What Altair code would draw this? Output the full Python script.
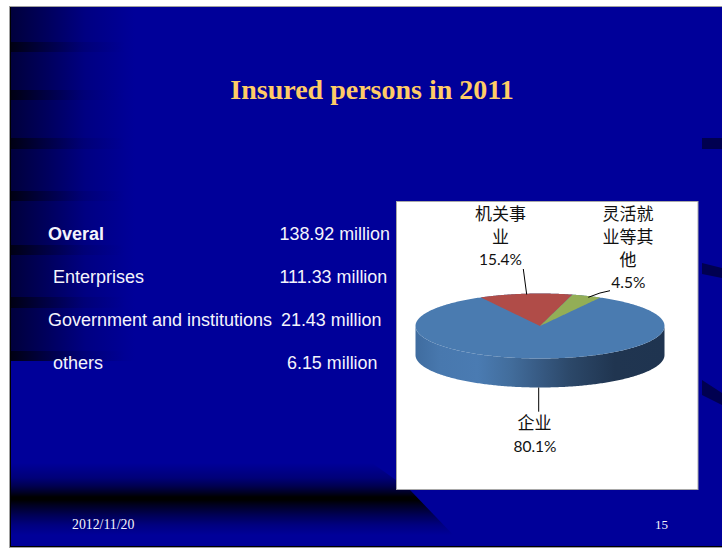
import altair as alt
import numpy as np
import pandas as pd

# Slide copy
title_text = "Insured persons in 2011"
row_names = ["Overal", "Enterprises", "Government and institutions", "others"]
row_amounts = ["138.92 million", "111.33 million", "21.43 million", "6.15 million"]
footer_date = "2012/11/20"
footer_page = "15"

# Pie shares in percent, clockwise from the red slice
share_names = ["机关事业", "灵活就业等其他", "企业"]
share_values = [15.4, 4.5, 80.1]

W, H = 722, 548
x_scale = alt.Scale(domain=[0, W], range=[0, W], nice=False, zero=False)
y_scale = alt.Scale(domain=[H, 0], range=[H, 0], nice=False, zero=False)
X = alt.X("x:Q", scale=x_scale, axis=None)
Y = alt.Y("y:Q", scale=y_scale, axis=None)


def grad(stops, horizontal=True):
    return alt.Gradient(
        gradient="linear",
        x1=0, y1=0, x2=1 if horizontal else 0, y2=0 if horizontal else 1,
        stops=[alt.GradientStop(offset=o, color=c) for o, c in stops],
    )


def rect(x, x2, y, y2, fill):
    df = pd.DataFrame({"x": [x], "x2": [x2], "y": [y], "y2": [y2]})
    return alt.Chart(df).mark_rect(fill=fill).encode(x=X, x2="x2:Q", y=Y, y2="y2:Q")


def band(xs, ys, ys2, fill):
    df = pd.DataFrame({"x": xs, "y": ys, "y2": ys2})
    return alt.Chart(df).mark_area(fill=fill, interpolate="linear", line=False).encode(
        x=X, y=Y, y2="y2:Q"
    )


def label(text, x, y, size, color="#000000", font="Liberation Sans", align="left",
          weight="normal", baseline="alphabetic"):
    df = pd.DataFrame({"x": [x], "y": [y], "t": [text]})
    return alt.Chart(df).mark_text(
        fontSize=size, color=color, font=font, align=align, fontWeight=weight, baseline=baseline
    ).encode(x=X, y=Y, text="t:N")


def leader(x, y, x2, y2):
    df = pd.DataFrame({"x": [x], "y": [y], "x2": [x2], "y2": [y2]})
    return alt.Chart(df).mark_rule(color="#000000", strokeWidth=1).encode(
        x=X, y=Y, x2="x2:Q", y2="y2:Q"
    )


layers = []

# Slide frame and blue ground
layers.append(rect(9, W, 6, 548, "#a0a0a0"))
layers.append(rect(10, W, 7, 547, "#000000"))
layers.append(rect(11, W, 7, 546, "#000099"))

# Dark fade down the left side, with its stripes
layers.append(rect(11, 135, 7, 361, grad([
    (0, "#00003c"), (0.3, "#00005e"), (0.6, "#000082"), (1, "#000099"),
])))
stripe_fade = grad([(0, "rgba(0,0,20,1)"), (0.25, "rgba(0,0,40,0.6)"), (0.6, "rgba(0,0,70,0.2)"), (1, "rgba(0,0,90,0)")])
for top, bottom in [(42, 52), (90, 100), (138, 149), (191, 201), (245, 255), (297, 308), (351, 361)]:
    layers.append(rect(11, 125, top, bottom, stripe_fade))

# Stripes on the right edge
stripe_color = "#000050"
layers.append(rect(702, W, 138, 149, stripe_color))
layers.append(band([702, W], [263, 268], [274, 278], stripe_color))
layers.append(band([702, W], [380, 393], [395, 405], stripe_color))

# Dark swoosh along the bottom; stops are set by row within the band
band_top, band_bottom = 463, 546
swoosh_stops = [
    (463, "#000099"), (478, "#000078"), (486, "#000050"), (492, "#000028"), (497, "#000000"),
    (500, "#000000"), (505, "#000020"), (515, "#000055"), (525, "#000080"), (535, "#000099"),
    (546, "#000099"),
]
layers.append(band(
    [11, 372, 410, 460], [band_top, band_top, 490, 542], [band_bottom] * 4,
    grad([((r - band_top) / (band_bottom - band_top), c) for r, c in swoosh_stops], horizontal=False),
))

# Slide text
body_white = "#F4F4FC"
layers.append(label(title_text, 372, 99, 28, "#FFCC66", "Liberation Serif", "center", "bold"))
baselines = [240, 283, 326, 369]
name_x = [48, 53, 48, 53]
amount_x = [279.5, 279.5, 281, 287]
for i, (name, amount) in enumerate(zip(row_names, row_amounts)):
    layers.append(label(name, name_x[i], baselines[i], 18, body_white,
                        weight="bold" if i == 0 else "normal"))
    layers.append(label(amount, amount_x[i], baselines[i], 17.9, body_white))
layers.append(label(footer_date, 72, 529, 13.8, body_white, "Liberation Serif"))
layers.append(label(footer_page, 655, 529, 13, body_white, "Liberation Serif"))

# Chart panel
layers.append(rect(396, 698.5, 201, 490, "#a8a8a8"))
layers.append(rect(397, 697.5, 202, 489, "#FFFFFF"))

# Tilted pie: radii, centre and wall depth of the disc
cx, cy, rx, ry, depth = 540.0, 326.0, 124.5, 32.5, 29.0


def view_angle(deg):
    # Slices at the far side look narrower once the disc is tilted
    return deg - 7.5 * np.sin(np.radians(2 * deg))


def rim(deg):
    t = np.radians(view_angle(np.asarray(deg, dtype=float)))
    return cx + rx * np.sin(t), cy - ry * np.cos(t)


def slice_area(start, end, fill):
    px, py = rim(np.linspace(start, end, 61))
    poly_x = np.r_[px, cx]
    poly_y = np.r_[py, cy]
    xs = np.unique(np.r_[np.linspace(poly_x.min(), poly_x.max(), 121), poly_x])
    nx, ny = np.roll(poly_x, -1), np.roll(poly_y, -1)
    tops, bottoms = [], []
    for x in xs:
        hits = []
        for a, b, c, d in zip(poly_x, poly_y, nx, ny):
            if min(a, c) - 1e-9 <= x <= max(a, c) + 1e-9:
                hits.extend([b, d] if abs(c - a) < 1e-9 else [b + (d - b) * (x - a) / (c - a)])
        tops.append(min(hits))
        bottoms.append(max(hits))
    return band(xs, tops, bottoms, fill)


theta = np.radians(np.linspace(-90, 90, 241))
disc_x = cx + rx * np.sin(theta)
disc_up = cy - ry * np.cos(theta)
disc_down = cy + ry * np.cos(theta)

layers.append(band(disc_x, disc_down, disc_down + depth, grad([
    (0, "#3f6c9f"), (0.1, "#4878ae"), (0.25, "#4a7bb2"), (0.38, "#426d9c"),
    (0.5, "#375a83"), (0.62, "#2c4869"), (0.8, "#203550"), (1, "#1f3450"),
])))
layers.append(band(disc_x, disc_up, disc_down, "#4a7bb0"))

edge = -35.5
colors = ["#B04C48", "#93AE56"]
for value, color in zip(share_values[:2], colors):
    sweep = value * 3.6
    layers.append(slice_area(edge, edge + sweep, color))
    edge += sweep

# Leader lines
layers.append(leader(523.3, 269, 526.7, 294.5))
layers.append(leader(588.3, 297.3, 600, 293))
layers.append(leader(600, 293, 610, 290.7))
layers.append(leader(538.7, 387.5, 538.7, 411.7))

# Slice labels, wrapped the way the panel wraps them
cjk = "Noto Sans CJK SC"
num = "Lato"
for x, y, line in [
    (500.5, 215, "机关事"), (500.5, 237.5, "业"),
    (628, 215, "灵活就"), (628, 237.5, "业等其"), (628, 261, "他"),
    (534.5, 424, "企业"),
]:
    layers.append(label(line, x, y, 17, "#111111", cjk, "center", baseline="middle"))
for x, y, value in [(500.5, 260, share_values[0]), (628.3, 283, share_values[1]), (535, 447, share_values[2])]:
    layers.append(label(f"{value:.1f}%", x, y, 15.5, "#111111", num, "center", baseline="middle"))

chart = alt.layer(*layers).properties(
    width=W, height=H, padding=0, background="#FFFFFF",
    autosize=alt.AutoSizeParams(type="none"),
).configure_view(stroke=None)

chart.save("out.html", embed_options={"renderer": "svg", "actions": False})
